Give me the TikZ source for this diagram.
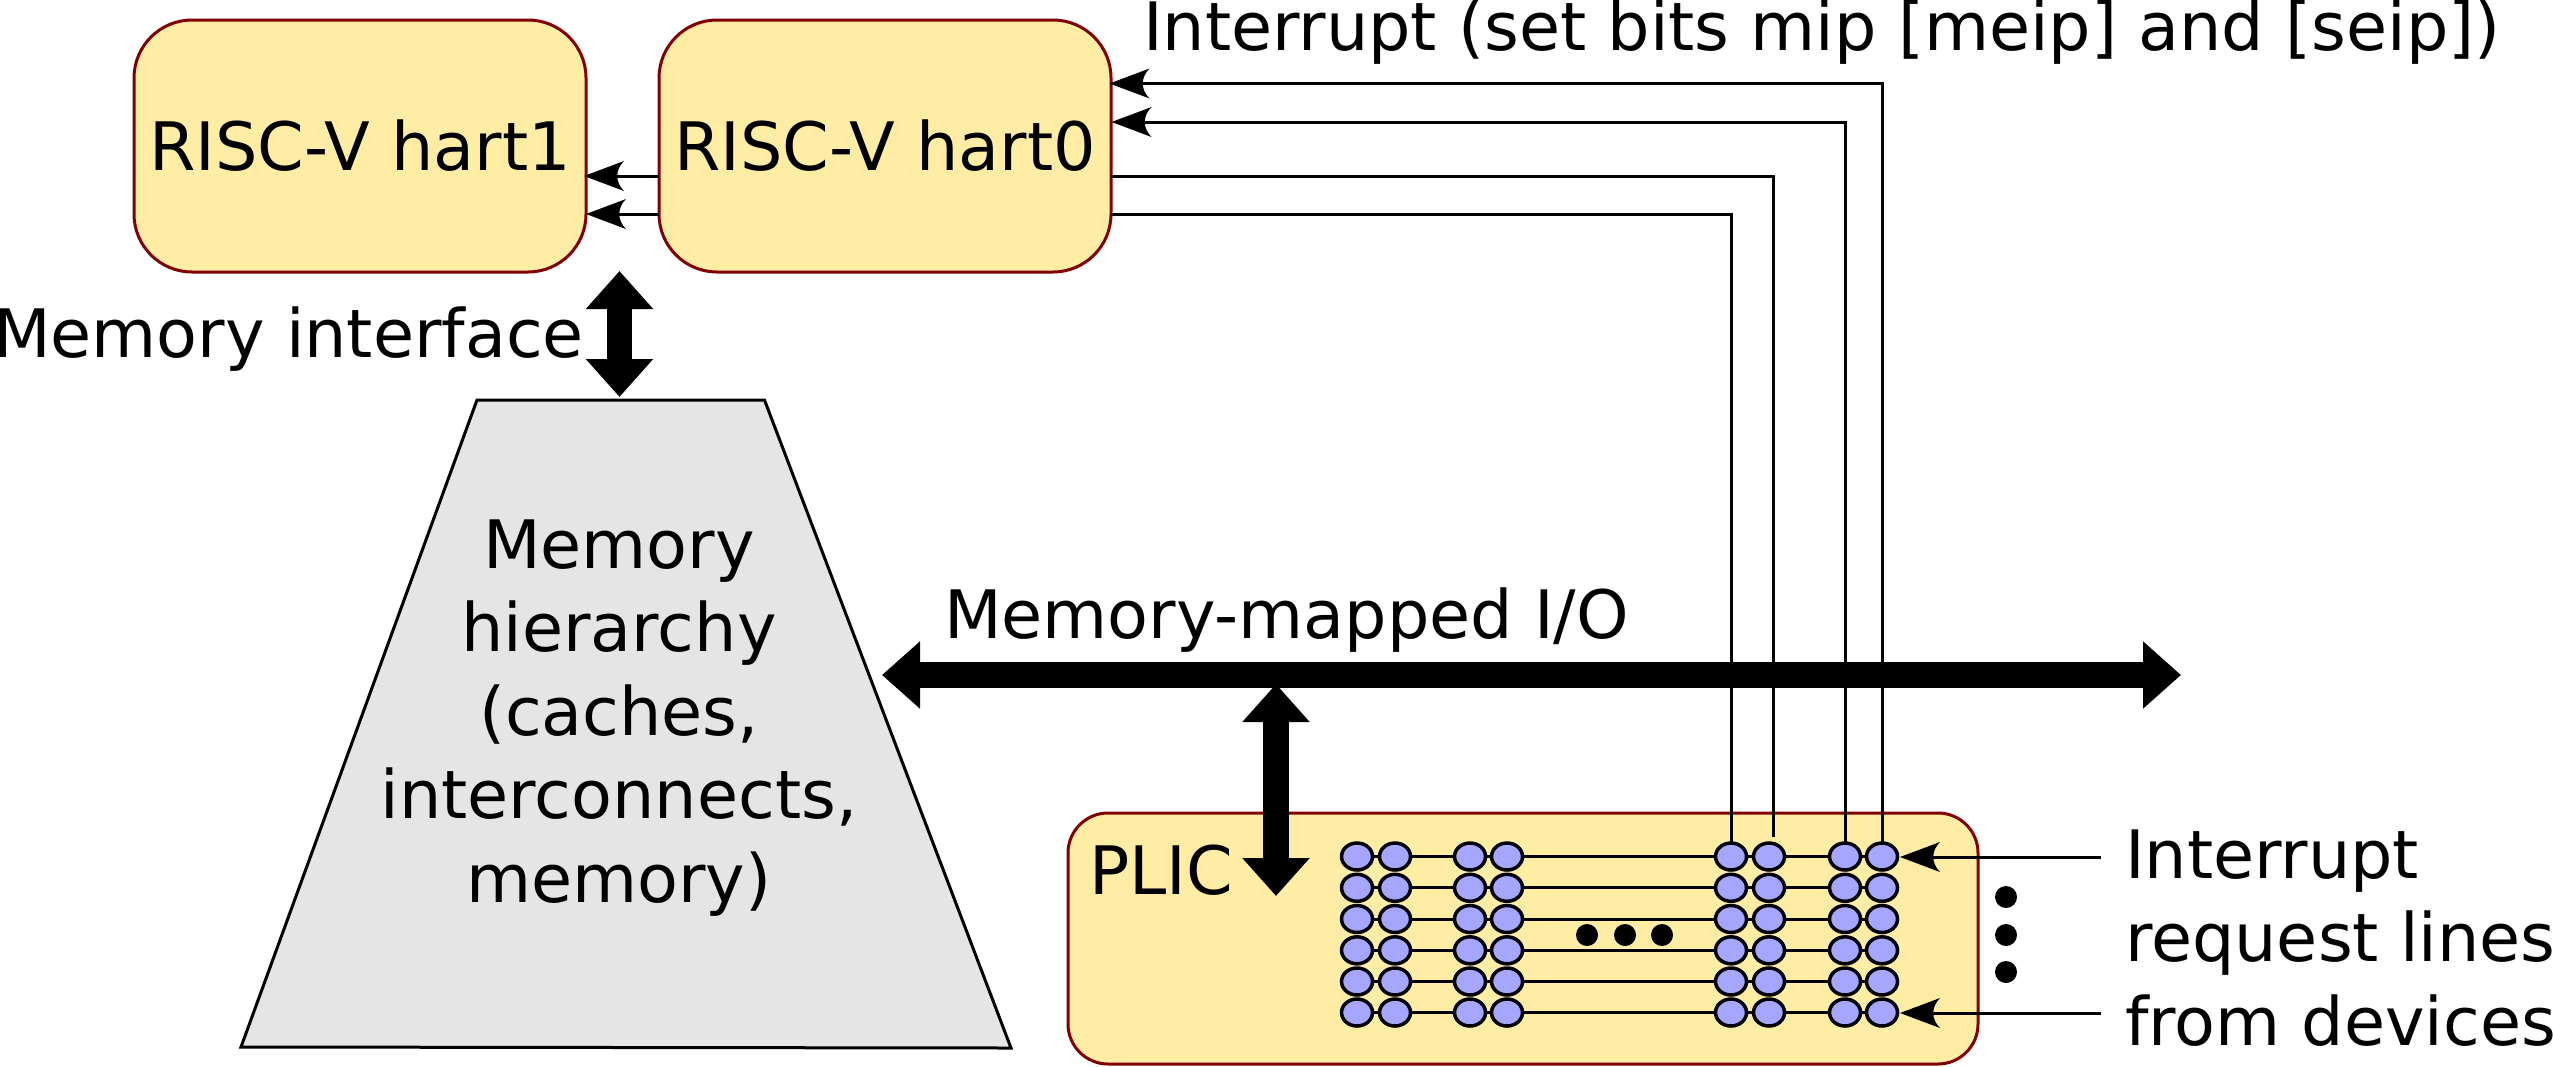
\documentclass[tikz,border=0pt]{standalone}
\usepackage{fontspec}
\setmainfont{DejaVu Sans}
\usetikzlibrary{arrows.meta,shapes.geometric}
\definecolor{boxfill}{RGB}{255,237,166}
\definecolor{boxline}{RGB}{128,0,0}
\definecolor{cellfill}{RGB}{166,166,255}
\definecolor{memfill}{RGB}{229,229,229}
\pgfdeclarearrow{
  name=Barb,
  setup code={
    \pgfarrowssettipend{0pt}
    \pgfarrowssetbackend{-40pt}
    \pgfarrowssetlineend{-30pt}
    \pgfarrowssetvisualbackend{-32pt}
    \pgfarrowshullpoint{0pt}{0pt}
    \pgfarrowshullpoint{-40pt}{15pt}
    \pgfarrowshullpoint{-40pt}{-15pt}
  },
  drawing code={
    \pgfpathmoveto{\pgfpoint{0pt}{0pt}}
    \pgfpathlineto{\pgfpoint{-40pt}{15pt}}
    \pgfpathcurveto{\pgfpoint{-31pt}{6pt}}{\pgfpoint{-31pt}{-6pt}}{\pgfpoint{-40pt}{-15pt}}
    \pgfpathclose
    \pgfusepathqfill
  }
}
\tikzset{
  unitbox/.style={draw=boxline,fill=boxfill,line width=3pt,rectangle,rounded corners=58pt,inner sep=0pt,outer sep=0pt,minimum width=452pt,minimum height=252pt},
  wire/.style={draw=black,line width=3pt},
  thinarrow/.style={wire,-{Barb[]}},
  bigarrow/.style={draw=black,line width=25.5pt,{Triangle[length=38pt,width=65pt]}-{Triangle[length=38pt,width=65pt]}},
  cell/.style={draw=black,fill=cellfill,line width=3.5pt,ellipse,inner sep=0pt,outer sep=0pt,minimum width=31pt,minimum height=27pt},
  dotmark/.style={fill=black,circle,inner sep=0pt,outer sep=0pt,minimum size=22pt},
  label/.style={inner sep=0pt,outer sep=0pt,font=\fontsize{66.8}{83.5}\selectfont}
}
\begin{document}
\begin{tikzpicture}[x=1pt,y=-1pt]
\useasboundingbox (0,0) rectangle (2553,1066);
% boxes
\node[unitbox,label] (hart1) at (360,146) {RISC-V hart1};
\node[unitbox,label] (hart0) at (885,146) {RISC-V hart0};
\node[unitbox,minimum width=910pt,minimum height=251pt,rounded corners=40pt] (plic) at (1523,938.5) {};
\path[draw=black,fill=memfill,line width=3pt,line join=miter] (477,400) -- (764.5,400) -- (1011,1048) -- (241,1047) -- cycle;
\coordinate (memtop) at (619.5,397);
\node[label,align=center,anchor=base] (memtext) at (619,902) {Memory\\hierarchy\\(caches,\\interconnects,\\memory)};
% matrix rows
\foreach \r/\y in {1/856.5,2/887.8,3/919,4/950.3,5/981.5,6/1012.5}{
  \foreach \c/\x in {1/1357,2/1395,3/1470,4/1507,5/1731,6/1769,7/1845,8/1882}{
    \coordinate (p\c\r) at (\x,\y);
  }
  \draw[wire] (p1\r) -- (p8\r);
  \foreach \c in {1,...,8}{
    \node[cell] (c\c\r) at (p\c\r) {};
  }
}
% interrupt wires
\coordinate (h0a) at (1109.5,83.5);
\coordinate (h0b) at (1111.5,122);
\coordinate (h0c) at (hart0.east |- 0,176);
\coordinate (h0d) at (hart0.east |- 0,214);
\coordinate (stub) at (1773,837);
\coordinate (h1a) at (584,176);
\coordinate (h1b) at (586,214);
\draw[thinarrow] (c81.north) |- (h0a);
\draw[thinarrow] (c71.north) |- (h0b);
\draw[wire] (h0c) -| (stub);
\draw[wire] (h0d) -| (c51.north);
\draw[thinarrow] (hart0.west |- h1a) -- (h1a);
\draw[thinarrow] (hart0.west |- h1b) -- (h1b);
% requests
\coordinate (ira) at (2101,857);
\coordinate (irb) at (2101,1013);
\coordinate (ta) at (1900,857);
\coordinate (tb) at (1900,1013);
\draw[thinarrow] (ira) -- (ta);
\draw[thinarrow] (irb) -- (tb);
% thick arrows
\coordinate (memif) at (619.5,271);
\coordinate (busl) at (882,675);
\coordinate (busr) at (2181,675);
\coordinate (busdrop) at (1276,684);
\coordinate (plicin) at (1276,896);
\draw[bigarrow] (memif) -- (memtop);
\draw[bigarrow] (busl) -- (busr);
\draw[bigarrow] (busdrop) -- (plicin);
% dots
\foreach \n/\x/\y in {a/1587/935,b/1625/935,c/1662/935,d/2006/897,e/2006/935,f/2006/972}{
  \node[dotmark] (dot\n) at (\x,\y) {};
}
% labels
\node[label,anchor=base west] (irqtop) at (1143,50) {Interrupt (set bits mip [meip] and [seip])};
\node[label,anchor=base east] (memiflabel) at (584,357) {Memory interface};
\node[label,anchor=base west] (mmio) at (944,638) {Memory-mapped I/O};
\node[label,anchor=base west] (pliclabel) at (1089,894) {PLIC};
\node[label,anchor=base west,align=left] (irqlabel) at (2125,1045) {Interrupt\\request lines\\from devices};
\end{tikzpicture}
\end{document}
